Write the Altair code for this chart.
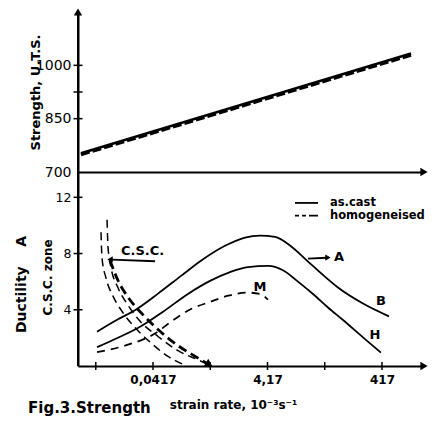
import altair as alt
import pandas as pd

# ---------------- data (strain rate in 10^-3 s^-1) ----------------
# top panel: strength (U.T.S.)
rate_strength = [0.0023, 1340]
uts_cast = [753, 1033]
uts_homog = [749, 1029]

# bottom panel: ductility A
rate_upper = [0.00439, 0.0102, 0.0202, 0.0510, 0.129, 0.312, 0.754, 1.69, 3.08, 5.64, 10.7, 21.3, 38.9, 71.0, 194, 553]
duct_upper = [2.44, 3.32, 3.97, 5.15, 6.41, 7.59, 8.55, 9.14, 9.27, 9.18, 8.52, 7.43, 6.47, 5.58, 4.44, 3.53]
rate_lower = [0.00439, 0.0102, 0.0257, 0.0623, 0.170, 0.430, 0.923, 1.90, 4.25, 7.78, 14.2, 26.0, 47.5, 86.9, 194, 400]
duct_lower = [1.34, 2.01, 2.83, 3.86, 5.13, 6.09, 6.68, 7.04, 7.12, 6.81, 6.00, 5.12, 4.16, 3.27, 2.04, 0.95]
rate_homog = [0.00439, 0.0135, 0.0452, 0.0932, 0.192, 0.413, 0.852, 1.90, 3.08, 4.25]
duct_homog = [0.98, 1.45, 2.31, 3.25, 4.05, 4.56, 5.00, 5.22, 5.12, 4.72]
rate_csc1 = [0.00515, 0.00536, 0.0063, 0.00834, 0.0125, 0.0202, 0.0370, 0.0762, 0.157]
duct_csc1 = [9.51, 7.69, 6.25, 4.97, 3.78, 2.73, 1.70, 0.68, 0.03]
rate_csc2 = [0.00656, 0.00683, 0.0077, 0.0102, 0.0153, 0.0257, 0.0510, 0.114, 0.255, 0.413]
duct_csc2 = [10.4, 8.44, 7.0, 5.57, 4.31, 3.12, 2.10, 1.09, 0.44, 0.05]
rate_csc3 = [0.0074, 0.0102, 0.0153, 0.0279, 0.0553, 0.114, 0.235, 0.413]
duct_csc3 = [7.51, 6.08, 4.89, 3.64, 2.47, 1.45, 0.65, 0.05]

x_ticks = [0.00417, 0.0417, 0.417, 4.17, 41.7, 417]
x_domain = [0.00204, 2260]
uts_ticks = [700, 850, 925, 1000]
uts_domain = [700, 1150]
duct_ticks = [4, 8, 12]
duct_domain = [0, 13.8]

labels_txt = ["C.S.C.", "A", "B", "H", "M"]
labels_rate = [0.0115, 60.5, 400, 315, 3.08]
labels_duct = [8.2, 7.75, 4.59, 2.24, 5.63]
labels_align = ["left", "left", "center", "center", "center"]

legend_txt = ["as.cast", "homogeneised"]
legend_duct = [11.6, 10.7]
legend_rate1, legend_rate2, legend_rate_txt = 12.6, 31.8, 51.5

FONT = "DejaVu Sans"
W = 346

def xs(axis):
    return alt.X("rate:Q", scale=alt.Scale(type="log", domain=x_domain, nice=False), axis=axis)

# ---------------- top panel ----------------
top_x_axis = alt.Axis(ticks=False, labels=False, title=None, grid=False, domainWidth=2, domainColor="black")
top_y_axis = alt.Axis(values=uts_ticks, format="d", grid=False, ticks=False, tickSize=0,
                      labelExpr="datum.value == 925 ? '' : datum.label",
                      title="Strength, U.T.S.", titleFontSize=13, titleFontWeight="bold",
                      minExtent=30, maxExtent=30, titlePadding=6, labelFontSize=14, labelPadding=7)
XT = xs(top_x_axis)
ys_top = alt.Y("uts:Q", scale=alt.Scale(domain=uts_domain, nice=False), axis=top_y_axis)

df_cast = pd.DataFrame({"rate": rate_strength, "uts": uts_cast})
df_hom = pd.DataFrame({"rate": rate_strength, "uts": uts_homog})
top_solid = alt.Chart(df_cast).mark_line(color="black", strokeWidth=2.6).encode(x=XT, y=ys_top)
top_dash = alt.Chart(df_hom).mark_line(color="black", strokeWidth=3.4, strokeDash=[9, 3]).encode(x=XT, y=ys_top)

# axis line, ticks and arrowheads of the top panel
top_axis_line = alt.Chart(pd.DataFrame({"rate": [x_domain[0]], "uts": [uts_domain[0]], "uts2": [uts_domain[1]]})).mark_rule(
    color="black", strokeWidth=2).encode(x=XT, y=ys_top, y2="uts2:Q")
top_ticks = alt.Chart(pd.DataFrame({"rate": [x_domain[0]] * 3, "uts": uts_ticks[1:]})).mark_tick(
    color="black", orient="horizontal", size=9, thickness=1.5, opacity=1).encode(x=XT, y=ys_top)
df_arrows_top = pd.DataFrame({"rate": [x_domain[0], x_domain[1]], "uts": [uts_domain[1], uts_domain[0]],
                              "shape": ["triangle-up", "triangle-right"]})
top_arrows = alt.Chart(df_arrows_top).mark_point(filled=True, color="black", size=70, opacity=1).encode(
    x=XT, y=ys_top, shape=alt.Shape("shape:N", scale=None))

top = alt.layer(top_solid, top_dash, top_axis_line, top_ticks, top_arrows).properties(width=W, height=160)

# ---------------- bottom panel ----------------
bot_x_axis = alt.Axis(values=x_ticks, labelOverlap=False, grid=False, ticks=False, tickSize=0,
                      labelExpr="datum.value == 0.0417 ? '0,0417' : datum.value == 4.17 ? '4,17' : datum.value == 417 ? '417' : ''",
                      labelFontSize=12, labelFontWeight="bold", labelPadding=8,
                      title="strain rate, 10\u207b\u00b3s\u207b\u00b9", titleFontSize=12, titleFontWeight="bold",
                      titleX=155, titleY=42, titleBaseline="alphabetic",
                      domainWidth=2, domainColor="black")
bot_y_axis = alt.Axis(values=duct_ticks, format="d", grid=False, ticks=False, tickSize=0,
                      title="Ductility\u00a0\u00a0\u00a0\u00a0A",
                      titleFontSize=14, titleFontWeight="bold", titleY=112,
                      minExtent=30, maxExtent=30, titlePadding=20, labelFontSize=12.5, labelPadding=7)
ys_bot = alt.Y("duct:Q", scale=alt.Scale(domain=duct_domain, nice=False), axis=bot_y_axis)
XB = xs(bot_x_axis)

def curve(r, d, name):
    return pd.DataFrame({"rate": r, "duct": d, "curve": name})

df_solid = pd.concat([curve(rate_upper, duct_upper, "B"), curve(rate_lower, duct_lower, "H")])
solid = alt.Chart(df_solid).mark_line(color="black", strokeWidth=1.8, interpolate="monotone").encode(
    x=XB, y=ys_bot, detail="curve:N")
homog = alt.Chart(curve(rate_homog, duct_homog, "M")).mark_line(
    color="black", strokeWidth=1.8, strokeDash=[8, 6], interpolate="monotone").encode(x=XB, y=ys_bot)
df_thin = pd.concat([curve(rate_csc1, duct_csc1, "c1"), curve(rate_csc2, duct_csc2, "c2")])
csc_thin = alt.Chart(df_thin).mark_line(color="black", strokeWidth=1.5, strokeDash=[8, 5], interpolate="monotone").encode(
    x=XB, y=ys_bot, detail="curve:N")
csc_heavy = alt.Chart(curve(rate_csc3, duct_csc3, "c3")).mark_line(
    color="black", strokeWidth=2.8, strokeDash=[9, 5], interpolate="monotone").encode(x=XB, y=ys_bot)

# axis line and ticks of the bottom panel
bot_axis_line = alt.Chart(pd.DataFrame({"rate": [x_domain[0]], "duct": [duct_domain[0]], "duct2": [duct_domain[1]]})).mark_rule(
    color="black", strokeWidth=2).encode(x=XB, y=ys_bot, y2="duct2:Q")
bot_yticks = alt.Chart(pd.DataFrame({"rate": [x_domain[0]] * 3, "duct": duct_ticks})).mark_tick(
    color="black", orient="horizontal", size=9, thickness=1.5, opacity=1).encode(x=XB, y=ys_bot)
bot_xticks = alt.Chart(pd.DataFrame({"rate": x_ticks, "duct": [0] * len(x_ticks)})).mark_tick(
    color="black", orient="vertical", size=8, thickness=1.5, opacity=1).encode(x=XB, y=ys_bot)

# arrows
df_rules = pd.DataFrame({"rate": [0.0452, 21.3], "rate2": [0.0080, 45.0], "duct": [7.45, 7.64], "duct2": [7.57, 7.70]})
arrow_rules = alt.Chart(df_rules).mark_rule(color="black", strokeWidth=1.8).encode(
    x=XB, x2="rate2:Q", y=ys_bot, y2="duct2:Q")
df_heads = pd.DataFrame({"rate": [0.0074, 47.5, 0.40, x_domain[1]], "duct": [7.58, 7.71, 0.12, 0],
                         "shape": ["triangle-left", "triangle-right", "triangle-right", "triangle-right"],
                         "ang": [0, 0, 31, 0], "sz": [40, 40, 70, 70]})
heads = alt.Chart(df_heads).mark_point(filled=True, color="black", opacity=1).encode(
    x=XB, y=ys_bot, shape=alt.Shape("shape:N", scale=None),
    angle=alt.Angle("ang:Q", scale=None), size=alt.Size("sz:Q", scale=None))

# text labels
df_lab = pd.DataFrame({"rate": labels_rate, "duct": labels_duct, "t": labels_txt, "al": labels_align})
lab_left = alt.Chart(df_lab[df_lab.al == "left"]).mark_text(
    font=FONT, fontSize=13, fontWeight="bold", align="left", baseline="middle", color="black").encode(
    x=XB, y=ys_bot, text="t:N")
lab_center = alt.Chart(df_lab[df_lab.al == "center"]).mark_text(
    font=FONT, fontSize=13, fontWeight="bold", align="center", baseline="middle", color="black").encode(
    x=XB, y=ys_bot, text="t:N")

# legend
df_leg_lines = pd.DataFrame({"rate": [legend_rate1] * 2, "rate2": [legend_rate2] * 2, "duct": legend_duct})
df_leg_text = pd.DataFrame({"rate": [legend_rate_txt] * 2, "duct": legend_duct, "t": legend_txt})
leg_solid = alt.Chart(df_leg_lines.iloc[[0]]).mark_rule(color="black", strokeWidth=1.8).encode(
    x=XB, x2="rate2:Q", y=ys_bot)
leg_dash = alt.Chart(df_leg_lines.iloc[[1]]).mark_rule(color="black", strokeWidth=1.8, strokeDash=[4, 3, 4, 3, 10, 0]).encode(
    x=XB, x2="rate2:Q", y=ys_bot)
leg_text = alt.Chart(df_leg_text).mark_text(font=FONT, fontSize=11.5, fontWeight="bold", align="left",
                                            baseline="middle", color="black").encode(
    x=XB, y=ys_bot, text="t:N")

# extra y-axis sub-label and caption
csc_zone = alt.Chart(pd.DataFrame({"duct": [6.3], "t": ["C.S.C. zone"]})).mark_text(
    font=FONT, fontSize=12, fontWeight="bold", angle=270, align="center", baseline="middle", color="black").encode(
    x=alt.value(-30), y=ys_bot, text="t:N")
caption = alt.Chart(pd.DataFrame({"t": ["Fig.3.Strength"]})).mark_text(
    font=FONT, fontSize=15, fontWeight="bold", align="left", baseline="alphabetic", color="black").encode(
    x=alt.value(-50), y=alt.value(241), text="t:N")

bottom = alt.layer(solid, homog, csc_thin, csc_heavy, bot_axis_line, bot_yticks, bot_xticks,
                   arrow_rules, heads, lab_left, lab_center,
                   leg_solid, leg_dash, leg_text, csc_zone, caption).properties(width=W, height=194)

chart = alt.vconcat(top, bottom, spacing=0, bounds="flush").properties(
    padding={"left": 6, "top": 0, "right": 2, "bottom": 0}
).configure(font=FONT).configure_view(stroke=None).configure_axis(
    grid=False, domainColor="black", domainWidth=2,
    labelColor="black", titleColor="black", labelFont=FONT, titleFont=FONT
)

chart.save("out.html", embed_options={"renderer": "svg", "actions": False})
